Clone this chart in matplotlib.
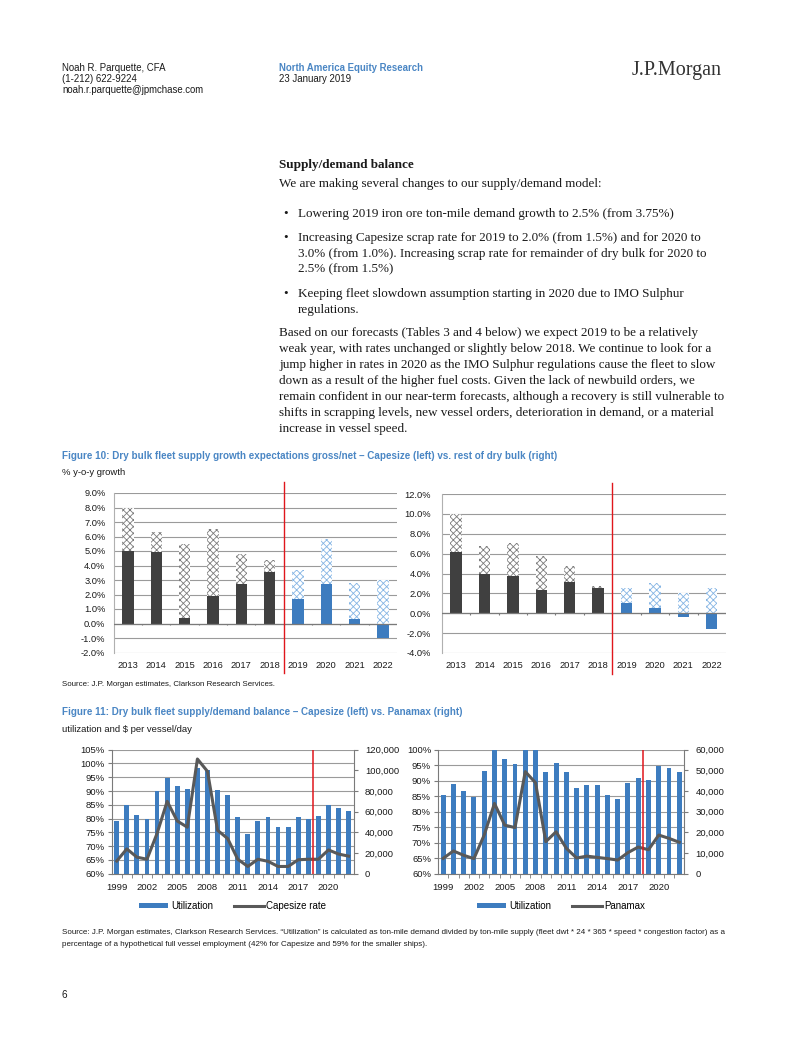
import matplotlib
matplotlib.use("Agg")
import matplotlib.pyplot as plt
from matplotlib import font_manager
import numpy as np

# ---------------- data ----------------
years_a = ["2013", "2014", "2015", "2016", "2017", "2018", "2019", "2020", "2021", "2022"]
cape_gross = [8.0, 6.3, 5.5, 6.5, 4.8, 4.4, 3.7, 5.8, 2.8, 3.0]
cape_net = [5.0, 4.9, 0.35, 1.9, 2.75, 3.55, 1.7, 2.75, 0.3, -1.0]
rest_gross = [10.0, 6.8, 7.1, 5.8, 4.8, 2.7, 2.5, 3.0, 2.0, 2.5]
rest_net = [6.2, 4.0, 3.7, 2.35, 3.1, 2.5, 1.0, 0.5, -0.35, -1.6]
n_hist = 6  # 2013-2018 actual, rest forecast

years_b = list(range(1999, 2023))
cape_util = [79.1, 84.9, 81.2, 79.8, 90.1, 94.8, 91.9, 90.7, 98.2, 97.5, 90.2, 88.4,
             80.4, 74.4, 79.1, 80.6, 76.8, 76.8, 80.7, 80.0, 80.9, 84.9, 83.7, 82.7]
cape_rate = [12300, 24000, 16000, 14000, 39000, 70000, 51000, 45000, 111000, 99000, 42000, 34000,
             14000, 7000, 14000, 12000, 7000, 7000, 13500, 14000, 14000, 23000, 19000, 17000]
pmx_util = [85.3, 89.0, 86.7, 84.9, 93.1, 100.0, 97.0, 95.3, 100.0, 100.0, 92.8, 95.7,
            92.8, 87.8, 88.5, 88.6, 85.5, 84.1, 89.1, 91.0, 90.1, 94.9, 94.1, 92.8]
pmx_rate = [7400, 11000, 8900, 7300, 18700, 34000, 23500, 22300, 49400, 44000, 15500, 20300,
            12300, 7600, 8500, 7900, 7300, 6600, 10200, 12900, 11600, 18700, 17100, 15200]
forecast_start = 2018.5

# ---------------- style ----------------
W, H = 802, 1037
fig = plt.figure(figsize=(W / 100, H / 100), dpi=100)
fig.patch.set_facecolor("white")

names = {f.name for f in font_manager.fontManager.ttflist}
SANS = "Liberation Sans" if "Liberation Sans" in names else "DejaVu Sans"
NARROW = "Liberation Sans Narrow" if "Liberation Sans Narrow" in names else SANS
SERIF = "Liberation Serif" if "Liberation Serif" in names else "DejaVu Serif"
CF = 7.2 if NARROW != SANS else 6.8  # chart-3/4 font size

BLUE_T = "#4a86c4"
BAR_BLUE = "#3d7cbf"
DARK = "#404040"
LINE_GRAY = "#595959"
GRID = "#9a9a9a"
AXC = "#7a7a7a"
TXT = "#1a1a1a"


def fx(x):
    return x / W


def fy(y):
    return 1 - y / H


def ftext(x, y, s, **kw):
    kw.setdefault("va", "center")
    kw.setdefault("ha", "left")
    kw.setdefault("color", TXT)
    fig.text(fx(x), fy(y), s, **kw)


# ---------------- header ----------------
hs = 6.9
ftext(62, 68, "Noah R. Parquette, CFA", family=SANS, size=hs)
ftext(62, 79, "(1-212) 622-9224", family=SANS, size=hs)
ftext(62, 90, "noah.r.parquette@jpmchase.com", family=SANS, size=hs)
ftext(279, 68, "North America Equity Research", family=SANS, size=hs, color=BLUE_T, weight="bold")
ftext(279, 79, "23 January 2019", family=SANS, size=hs)
ftext(722, 71, "J.P.Morgan", family=SERIF, size=14.5, ha="right", color="#333333")

# ---------------- body text ----------------
bs = 9.42
ftext(279, 165, "Supply/demand balance", family=SERIF, size=bs, weight="bold")
ftext(279, 184, "We are making several changes to our supply/demand model:", family=SERIF, size=bs)
bullets = [
    (214, ["Lowering 2019 iron ore ton-mile demand growth to 2.5% (from 3.75%)"]),
    (238, ["Increasing Capesize scrap rate for 2019 to 2.0% (from 1.5%) and for 2020 to",
           "3.0% (from 1.0%). Increasing scrap rate for remainder of dry bulk for 2020 to",
           "2.5% (from 1.5%)"]),
    (294, ["Keeping fleet slowdown assumption starting in 2020 due to IMO Sulphur",
           "regulations."]),
]
for y0, lines in bullets:
    ftext(283, y0, "\u2022", family=SERIF, size=bs)
    for i, ln in enumerate(lines):
        ftext(298, y0 + 15.7 * i, ln, family=SERIF, size=bs)
para = [
    "Based on our forecasts (Tables 3 and 4 below) we expect 2019 to be a relatively",
    "weak year, with rates unchanged or slightly below 2018. We continue to look for a",
    "jump higher in rates in 2020 as the IMO Sulphur regulations cause the fleet to slow",
    "down as a result of the higher fuel costs. Given the lack of newbuild orders, we",
    "remain confident in our near-term forecasts, although a recovery is still vulnerable to",
    "shifts in scrapping levels, new vessel orders, deterioration in demand, or a material",
    "increase in vessel speed.",
]
for i, ln in enumerate(para):
    ftext(279, 333 + 16 * i, ln, family=SERIF, size=bs)

# ---------------- figure 10 ----------------
ts = 7.1
ftext(62, 456, "Figure 10: Dry bulk fleet supply growth expectations gross/net \u2013 Capesize (left) vs. rest of dry bulk (right)",
      family=SANS, size=ts, weight="bold", color=BLUE_T)
ftext(62, 473, "% y-o-y growth", family=SANS, size=6.8)
ftext(62, 685, "Source: J.P. Morgan estimates, Clarkson Research Services.", family=SANS, size=5.7)

plt.rcParams["hatch.linewidth"] = 0.6


def growth_chart(box, gross, net, ylo, yhi, step, red_top, red_bot, ypad):
    l, r, t, b = box
    ax = fig.add_axes([fx(l), fy(b), fx(r) - fx(l), fy(t) - fy(b)])
    x = np.arange(len(years_a))
    for i in x:
        fc_h = "#7c7c7c" if i < n_hist else "#86b5e4"
        solid = DARK if i < n_hist else BAR_BLUE
        ax.bar(i, gross[i], width=0.4, color="white", edgecolor=fc_h, hatch="xxxxx", linewidth=0, zorder=2)
        ax.bar(i, net[i], width=0.4, color=solid, linewidth=0, zorder=3)
    ax.set_xlim(-0.5, len(years_a) - 0.5)
    ax.set_ylim(ylo, yhi)
    ticks = np.arange(ylo, yhi + step / 2, step)
    ax.set_yticks(ticks)
    ax.set_yticklabels([f"{v:.1f}%" for v in ticks], family=SANS, fontsize=6.7, color=TXT)
    for v in ticks:
        ax.axhline(v, color=GRID, lw=0.8, zorder=1)
    ax.axhline(0, color=AXC, lw=0.9, zorder=4)
    ax.vlines(x[:-1] + 0.5, -(yhi - ylo) * 0.012, 0, color=AXC, lw=0.8, zorder=4)
    ax.set_xticks(x)
    ax.set_xticklabels(years_a, family=SANS, fontsize=6.7, color=TXT)
    ax.tick_params(axis="y", length=0, pad=ypad)
    ax.tick_params(axis="x", length=0, pad=6)
    for s in ["top", "right", "bottom"]:
        ax.spines[s].set_visible(False)
    ax.spines["left"].set_color("#b0b0b0")
    ax.spines["left"].set_linewidth(0.8)
    ax.plot([n_hist - 0.5, n_hist - 0.5], [red_top, red_bot], transform=ax.get_xaxis_transform(),
            color="#e0161c", lw=1.0, clip_on=False, zorder=5)
    return ax


growth_chart((113.8, 397, 493, 652.5), cape_gross, cape_net, -2, 9, 1, 1.07, -0.13, 6)
growth_chart((441.8, 726, 494, 653), rest_gross, rest_net, -4, 12, 2, 1.07, -0.13, 8)

# ---------------- figure 11 ----------------
ftext(62, 712, "Figure 11: Dry bulk fleet supply/demand balance \u2013 Capesize (left) vs. Panamax (right)",
      family=SANS, size=ts, weight="bold", color=BLUE_T)
ftext(62, 730, "utilization and $ per vessel/day", family=SANS, size=6.8)


def balance_chart(box, util, rate, ulo, uhi, ustep, rhi, rstep, line_label):
    l, r, t, b = box
    ax = fig.add_axes([fx(l), fy(b), fx(r) - fx(l), fy(t) - fy(b)])
    ax.bar(years_b, util, width=0.48, color=BAR_BLUE, linewidth=0, zorder=2, label="Utilization")
    ax.set_xlim(years_b[0] - 0.5, years_b[-1] + 0.5)
    ax.set_ylim(ulo, uhi)
    ut = np.arange(ulo, uhi + ustep / 2, ustep)
    ax.set_yticks(ut)
    ax.set_yticklabels([f"{v:.0f}%" for v in ut], family=NARROW, fontsize=CF, color=TXT)
    ax.yaxis.grid(True, color=GRID, lw=0.8, zorder=0)
    ax.set_axisbelow(True)
    ax.set_xticks(years_b[::3])
    ax.set_xticklabels([str(y) for y in years_b[::3]], family=NARROW, fontsize=CF, color=TXT)
    ax.set_xticks(np.array(years_b[:-1]) + 0.5, minor=True)
    ax.tick_params(axis="x", which="minor", length=3, color=AXC, direction="out")
    ax.tick_params(axis="x", which="major", length=0, pad=7)
    ax.tick_params(axis="y", length=3, color=AXC, pad=2)
    for s in ["top", "right"]:
        ax.spines[s].set_visible(False)
    for s in ["left", "bottom"]:
        ax.spines[s].set_color(AXC)
        ax.spines[s].set_linewidth(0.8)
    ax2 = ax.twinx()
    ax2.plot(years_b, rate, color=LINE_GRAY, lw=2.2, zorder=3, label=line_label)
    ax2.set_ylim(0, rhi)
    rt = np.arange(0, rhi + rstep / 2, rstep)
    ax2.set_yticks(rt)
    ax2.set_yticklabels([f"{v:,.0f}" for v in rt], family=NARROW, fontsize=CF, color=TXT)
    ax2.tick_params(axis="y", length=3, color=AXC, pad=5)
    for s in ["top", "left", "bottom"]:
        ax2.spines[s].set_visible(False)
    ax2.spines["right"].set_color(AXC)
    ax2.spines["right"].set_linewidth(0.8)
    ax2.axvline(forecast_start, color="#e0161c", lw=1.1, zorder=5)
    h1, l1 = ax.get_legend_handles_labels()
    h2, l2 = ax2.get_legend_handles_labels()
    ax.legend(h1 + h2, l1 + l2, loc="upper center", bbox_to_anchor=(0.5, -0.15), ncol=2,
              frameon=False, prop={"family": NARROW, "size": 7.0}, handlelength=3.0,
              handleheight=0.5, columnspacing=2.2, handletextpad=0.3)
    return ax


balance_chart((111.7, 353.7, 749.7, 873.7), cape_util, cape_rate, 60, 105, 5, 120000, 20000, "Capesize rate")
balance_chart((438, 684.4, 749.7, 873.7), pmx_util, pmx_rate, 60, 100, 5, 60000, 10000, "Panamax")

ftext(62, 932, "Source: J.P. Morgan estimates, Clarkson Research Services. \u201cUtilization\u201d is calculated as ton-mile demand divided by ton-mile supply (fleet dwt * 24 * 365 * speed * congestion factor) as a",
      family=NARROW, size=5.75)
ftext(62, 945, "percentage of a hypothetical full vessel employment (42% for Capesize and 59% for the smaller ships).",
      family=NARROW, size=5.75)
ftext(62, 995, "6", family=SANS, size=7.2)

fig.savefig("out.png", dpi=100, facecolor="white")
